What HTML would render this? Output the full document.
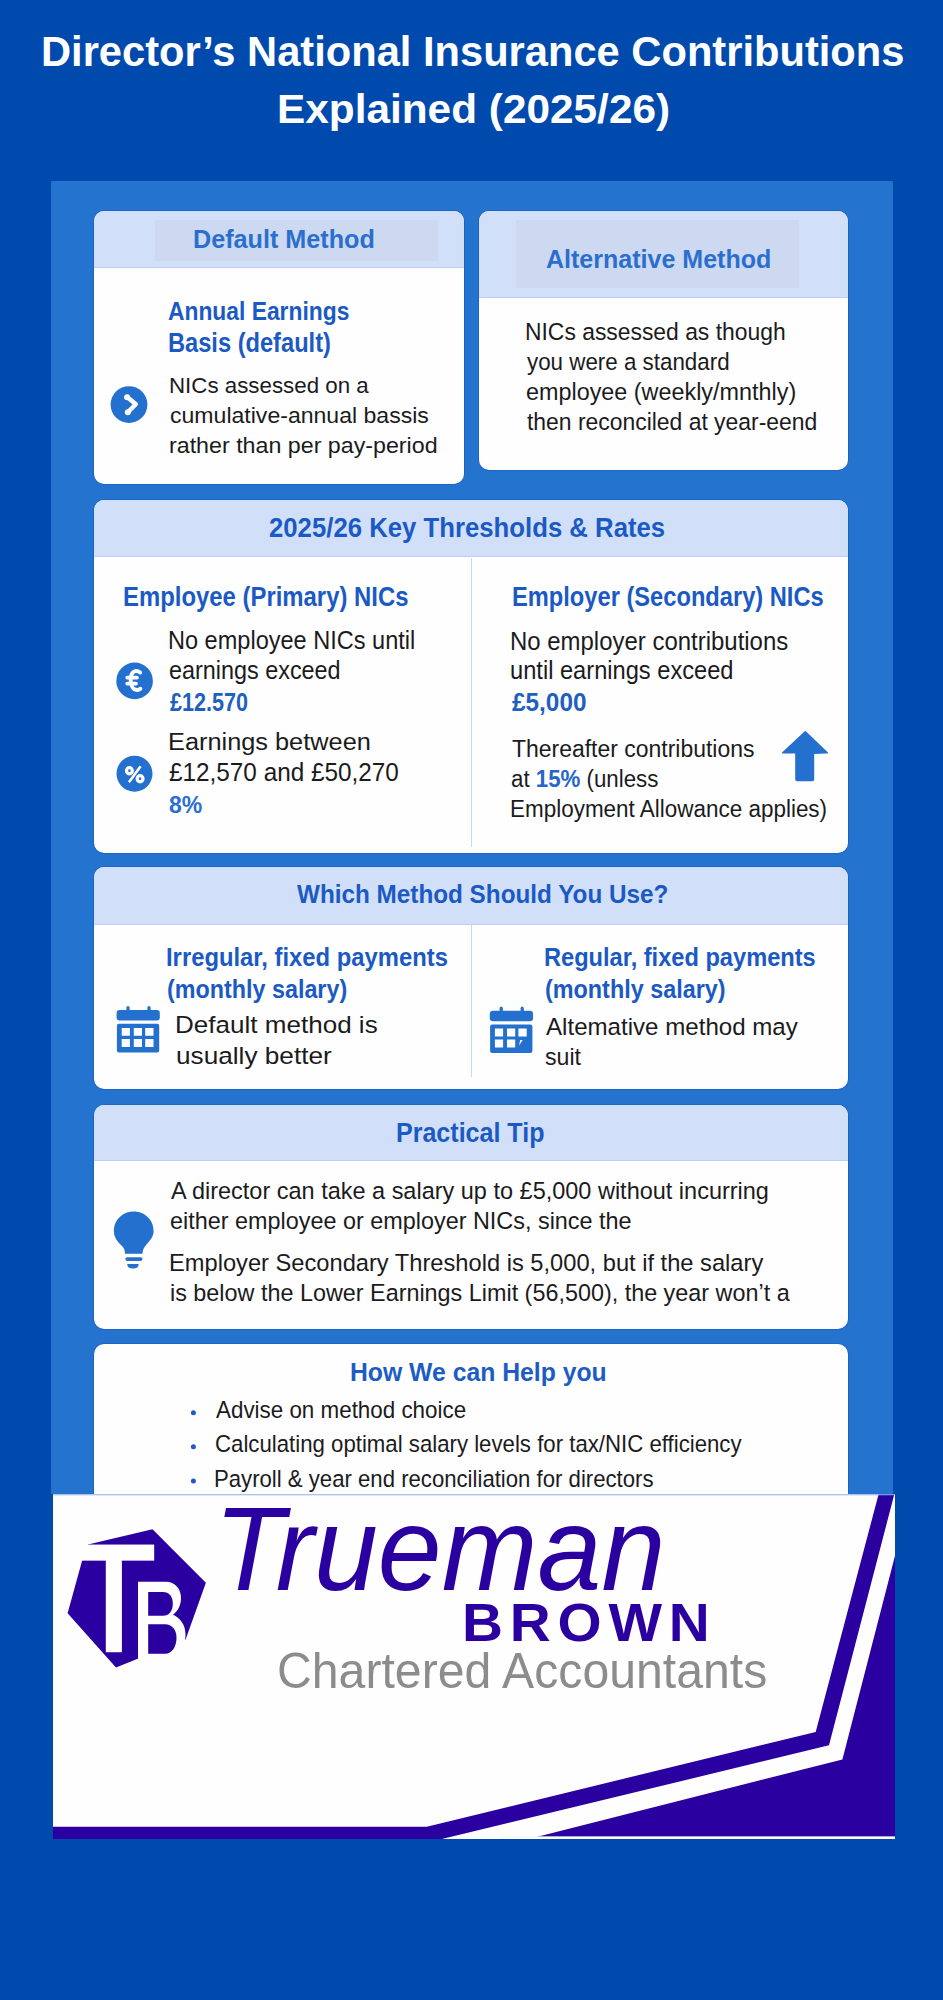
<!DOCTYPE html>
<html><head><meta charset="utf-8"><title>Director's National Insurance Contributions Explained</title>
<style>
html,body{margin:0;padding:0}
body{width:943px;height:2000px;overflow:hidden;background:#004aad;position:relative;font-family:"Liberation Sans",sans-serif}
.abs{position:absolute}
.panel{position:absolute;left:51px;top:181px;width:842px;height:1312.5px;background:#2473cf}
.card{position:absolute;background:#fefefe;border-radius:10px;overflow:hidden;box-shadow:0 0 0 0.6px rgba(10,70,190,0.55)}
.hd{position:absolute;left:0;top:0;width:100%;background:#d1dff9;border-bottom:1px solid #bcd0f3;box-sizing:border-box}
.inner{position:absolute;background:#cdd9f1}
.div{position:absolute;width:1.2px;background:#c9d8f2}
.t{position:absolute;white-space:nowrap;line-height:1;transform-origin:0 0}
.t span{display:inline-block}
svg{position:absolute;overflow:visible}
</style></head>
<body>
<div class="panel"></div>

<!-- card 1 -->
<div class="card" style="left:94px;top:211px;width:369.5px;height:273px">
  <div class="hd" style="height:57px"></div>
  <div class="inner" style="left:60.8px;top:8.6px;width:283.7px;height:41.6px"></div>
</div>
<!-- card 2 -->
<div class="card" style="left:479px;top:211px;width:369px;height:259px">
  <div class="hd" style="height:87px"></div>
  <div class="inner" style="left:37.3px;top:8.6px;width:282.5px;height:68px"></div>
</div>
<!-- card 3 -->
<div class="card" style="left:94px;top:500px;width:754px;height:353px">
  <div class="hd" style="height:56.5px"></div>
  <div class="div" style="left:377.3px;top:58px;height:289px"></div>
</div>
<!-- card 4 -->
<div class="card" style="left:94px;top:867.4px;width:754px;height:221.6px">
  <div class="hd" style="height:57.4px"></div>
  <div class="div" style="left:377.3px;top:57px;height:153px"></div>
</div>
<!-- card 5 -->
<div class="card" style="left:94px;top:1104.8px;width:754px;height:224.5px">
  <div class="hd" style="height:56px"></div>
</div>
<!-- card 6 -->
<div class="card" style="left:94px;top:1343.6px;width:754px;height:300px"></div>

<!-- icons -->
<svg width="943" height="2000" style="left:0;top:0" viewBox="0 0 943 2000">
  <g fill="#2470cf">
    <circle cx="129" cy="404.6" r="18.4"/>
    <circle cx="134.6" cy="680.9" r="18.3"/>
    <circle cx="134.5" cy="773.7" r="18"/>
    <!-- up arrow -->
    <path stroke="#2470cf" stroke-width="1.6" stroke-linejoin="round" d="M805.3 731.9 L827.2 752.8 L813.4 753.2 L813.4 779.5 Q813.4 780.5 812.4 780.5 L797 780.5 Q796 780.5 796 779.5 L796 752.8 L782.8 752.8 Z"/>
    <!-- calendar 1 -->
    <g id="cal1">
      <rect x="126.4" y="1006" width="3.2" height="8" rx="1.6"/>
      <rect x="147.4" y="1006" width="3.2" height="8" rx="1.6"/>
      <rect x="116.6" y="1010.1" width="43.2" height="10.5" rx="3"/>
      <path fill-rule="evenodd" d="M118.9 1023.8 H157.2 Q159.2 1023.8 159.2 1025.8 V1050.4 Q159.2 1052.4 157.2 1052.4 H118.9 Q116.9 1052.4 116.9 1050.4 V1025.8 Q116.9 1023.8 118.9 1023.8 Z
        M121.7 1027.9 V1035.8 H129.9 V1027.9 Z M133.8 1027.9 V1035.8 H142 V1027.9 Z M145.2 1027.9 V1035.8 H153.5 V1027.9 Z
        M121.7 1039 V1047 H129.9 V1039 Z M133.8 1039 V1047 H142 V1039 Z M145.2 1039 V1047 H153.5 V1039 Z"/>
    </g>
    <g transform="translate(373.2,0.6)">
      <rect x="126.4" y="1006" width="3.2" height="8" rx="1.6"/>
      <rect x="147.4" y="1006" width="3.2" height="8" rx="1.6"/>
      <rect x="116.6" y="1010.1" width="43.2" height="10.5" rx="3"/>
      <path fill-rule="evenodd" d="M118.9 1023.8 H157.2 Q159.2 1023.8 159.2 1025.8 V1050.4 Q159.2 1052.4 157.2 1052.4 H118.9 Q116.9 1052.4 116.9 1050.4 V1025.8 Q116.9 1023.8 118.9 1023.8 Z
        M121.7 1027.9 V1035.8 H129.9 V1027.9 Z M133.8 1027.9 V1035.8 H142 V1027.9 Z M145.2 1027.9 V1035.8 H153.5 V1027.9 Z
        M121.7 1039 V1047 H129.9 V1039 Z M133.8 1039 V1047 H142 V1039 Z M147 1039.5 L145.8 1045 L149.5 1039.5 Z"/>
    </g>
    <!-- bulb -->
    <path d="M133.7 1211.5 C122.5 1211.5 113.9 1220 113.9 1231 C113.9 1237.5 117.5 1241.5 121 1245 C124 1248 125 1250 125 1253.8 L142.5 1253.8 C142.5 1250 144 1247.5 146.5 1244.5 C150 1240.5 153.6 1237 153.6 1231 C153.6 1220 145 1211.5 133.7 1211.5 Z"/>
    <rect x="125.3" y="1257.3" width="17.2" height="3.6" rx="1.8"/>
    <path d="M127.2 1264 H138.7 Q138.7 1268.5 133 1268.5 Q127.2 1268.5 127.2 1264 Z"/>
    <!-- bullets -->
    <circle cx="193.4" cy="1412.7" r="2.5" fill="#1f5acc"/>
    <circle cx="193.4" cy="1446.7" r="2.5" fill="#1f5acc"/>
    <circle cx="193.4" cy="1480.9" r="2.5" fill="#1f5acc"/>
  </g>
  <!-- chevron -->
  <path d="M127.2 397 L135.8 404.2 L127.8 412.2" fill="none" stroke="#fff" stroke-width="4.4" stroke-linecap="round" stroke-linejoin="round"/>
  <circle cx="127.1" cy="397.2" r="3" fill="#fff"/>
  <circle cx="127.8" cy="412.2" r="3" fill="#fff"/>
  <!-- euro -->
  <path d="M140.2 672.5 C136 669.3 131.2 671.5 130.7 678.5 C130.3 685 132.8 689.6 137 690 C138.5 690.1 139.6 689.5 140.4 688.8" stroke="#fff" stroke-width="3.9" fill="none" stroke-linecap="round"/>
  <path d="M127.2 677.6 H137 M127.2 683.6 H136" stroke="#fff" stroke-width="3.7" stroke-linecap="round"/>
  <!-- percent -->
  <ellipse cx="129.4" cy="770.8" rx="2.9" ry="3.1" fill="none" stroke="#fff" stroke-width="3.3"/>
  <ellipse cx="140.1" cy="778.8" rx="2.9" ry="3.1" fill="none" stroke="#fff" stroke-width="3.3"/>
  <path d="M140.6 766.3 L128.9 782.2" stroke="#fff" stroke-width="2.5" stroke-linecap="butt"/>
</svg>

<div class="t" id="t0" style="left:41.33px;top:31.42px;font-size:42.15px;font-weight:bold;color:#ffffff;font-style:normal;letter-spacing:0em;transform:scaleX(0.9886)"><span>Director’s National Insurance Contributions</span></div>
<div class="t" id="t1" style="left:276.74px;top:88.21px;font-size:41.57px;font-weight:bold;color:#ffffff;font-style:normal;letter-spacing:0em;transform:scaleX(1.0189)"><span>Explained (2025/26)</span></div>
<div class="t" id="t2" style="left:193.24px;top:226.52px;font-size:25.73px;font-weight:bold;color:#2a6fce;font-style:normal;letter-spacing:0em;transform:scaleX(0.9791)"><span>Default Method</span></div>
<div class="t" id="t3" style="left:168.43px;top:297.83px;font-size:26.31px;font-weight:bold;color:#1b5ac4;font-style:normal;letter-spacing:0em;transform:scaleX(0.8681)"><span>Annual Earnings</span></div>
<div class="t" id="t4" style="left:167.54px;top:329.54px;font-size:26.89px;font-weight:bold;color:#1b5ac4;font-style:normal;letter-spacing:0em;transform:scaleX(0.8797)"><span>Basis (default)</span></div>
<div class="t" id="t5" style="left:168.56px;top:373.86px;font-size:22.97px;font-weight:normal;color:#1b1b1d;font-style:normal;letter-spacing:0em;transform:scaleX(0.9716)"><span>NICs assessed on a</span></div>
<div class="t" id="t6" style="left:169.50px;top:403.96px;font-size:22.97px;font-weight:normal;color:#1b1b1d;font-style:normal;letter-spacing:0em;transform:scaleX(1.0039)"><span>cumulative-annual bassis</span></div>
<div class="t" id="t7" style="left:169.49px;top:433.96px;font-size:22.97px;font-weight:normal;color:#1b1b1d;font-style:normal;letter-spacing:0em;transform:scaleX(1.0114)"><span>rather than per pay-period</span></div>
<div class="t" id="t8" style="left:545.53px;top:247.32px;font-size:25.73px;font-weight:bold;color:#2a6fce;font-style:normal;letter-spacing:0em;transform:scaleX(0.9734)"><span>Alternative Method</span></div>
<div class="t" id="t9" style="left:524.96px;top:321.07px;font-size:23.55px;font-weight:normal;color:#1b1b1d;font-style:normal;letter-spacing:0em;transform:scaleX(0.9713)"><span>NICs assessed as though</span></div>
<div class="t" id="t10" style="left:526.90px;top:351.17px;font-size:23.55px;font-weight:normal;color:#1b1b1d;font-style:normal;letter-spacing:0em;transform:scaleX(0.9495)"><span>you were a standard</span></div>
<div class="t" id="t11" style="left:525.91px;top:381.37px;font-size:23.55px;font-weight:normal;color:#1b1b1d;font-style:normal;letter-spacing:0em;transform:scaleX(0.9926)"><span>employee (weekly/mnthly)</span></div>
<div class="t" id="t12" style="left:526.90px;top:410.77px;font-size:23.55px;font-weight:normal;color:#1b1b1d;font-style:normal;letter-spacing:0em;transform:scaleX(0.9724)"><span>then reconciled at year-eend</span></div>
<div class="t" id="t13" style="left:269.09px;top:513.21px;font-size:28.34px;font-weight:bold;color:#1b5ac4;font-style:normal;letter-spacing:0em;transform:scaleX(0.9083)"><span>2025/26 Key Thresholds &amp; Rates</span></div>
<div class="t" id="t14" style="left:122.64px;top:582.99px;font-size:27.18px;font-weight:bold;color:#1b5ac4;font-style:normal;letter-spacing:0em;transform:scaleX(0.8792)"><span>Employee (Primary) NICs</span></div>
<div class="t" id="t15" style="left:511.66px;top:582.99px;font-size:27.18px;font-weight:bold;color:#1b5ac4;font-style:normal;letter-spacing:0em;transform:scaleX(0.8710)"><span>Employer (Secondary) NICs</span></div>
<div class="t" id="t16" style="left:167.91px;top:629.06px;font-size:24.85px;font-weight:normal;color:#1b1b1d;font-style:normal;letter-spacing:0em;transform:scaleX(0.9473)"><span>No employee NICs until</span></div>
<div class="t" id="t17" style="left:168.86px;top:658.96px;font-size:24.85px;font-weight:normal;color:#1b1b1d;font-style:normal;letter-spacing:0em;transform:scaleX(0.9411)"><span>earnings exceed</span></div>
<div class="t" id="t18" style="left:169.80px;top:689.54px;font-size:25.00px;font-weight:bold;color:#1f5fc2;font-style:normal;letter-spacing:0em;transform:scaleX(0.8633)"><span>£12.570</span></div>
<div class="t" id="t19" style="left:167.72px;top:729.93px;font-size:24.42px;font-weight:normal;color:#1b1b1d;font-style:normal;letter-spacing:0em;transform:scaleX(1.0380)"><span>Earnings between</span></div>
<div class="t" id="t20" style="left:168.82px;top:760.66px;font-size:24.85px;font-weight:normal;color:#1b1b1d;font-style:normal;letter-spacing:0em;transform:scaleX(0.9785)"><span>£12,570 and £50,270</span></div>
<div class="t" id="t21" style="left:168.83px;top:792.62px;font-size:23.84px;font-weight:bold;color:#2b6fd0;font-style:normal;letter-spacing:0em;transform:scaleX(0.9667)"><span>8%</span></div>
<div class="t" id="t22" style="left:510.08px;top:629.04px;font-size:25.00px;font-weight:normal;color:#1b1b1d;font-style:normal;letter-spacing:0em;transform:scaleX(0.9580)"><span>No employer contributions</span></div>
<div class="t" id="t23" style="left:510.10px;top:659.16px;font-size:24.85px;font-weight:normal;color:#1b1b1d;font-style:normal;letter-spacing:0em;transform:scaleX(0.9519)"><span>until earnings exceed</span></div>
<div class="t" id="t24" style="left:512.00px;top:689.84px;font-size:25.00px;font-weight:bold;color:#1f5fc2;font-style:normal;letter-spacing:0em;transform:scaleX(0.9737)"><span>£5,000</span></div>
<div class="t" id="t25" style="left:512.00px;top:737.00px;font-size:23.98px;font-weight:normal;color:#1b1b1d;font-style:normal;letter-spacing:0em;transform:scaleX(0.9577)"><span>Thereafter contributions</span></div>
<div class="t" id="t26" style="left:511.07px;top:766.90px;font-size:23.98px;font-weight:normal;color:#1b1b1d;font-style:normal;letter-spacing:0em;transform:scaleX(0.9293)"><span>at <b style="color:#2566c8">15%</b> (unless</span></div>
<div class="t" id="t27" style="left:510.13px;top:796.90px;font-size:23.98px;font-weight:normal;color:#1b1b1d;font-style:normal;letter-spacing:0em;transform:scaleX(0.9370)"><span>Employment Allowance applies)</span></div>
<div class="t" id="t28" style="left:296.60px;top:880.88px;font-size:26.02px;font-weight:bold;color:#1b5ac4;font-style:normal;letter-spacing:0em;transform:scaleX(0.9332)"><span>Which Method Should You Use?</span></div>
<div class="t" id="t29" style="left:165.89px;top:944.74px;font-size:25.00px;font-weight:bold;color:#1b5ac4;font-style:normal;letter-spacing:0em;transform:scaleX(0.9526)"><span>Irregular, fixed payments</span></div>
<div class="t" id="t30" style="left:166.87px;top:976.64px;font-size:25.00px;font-weight:bold;color:#1b5ac4;font-style:normal;letter-spacing:0em;transform:scaleX(0.9330)"><span>(monthly salary)</span></div>
<div class="t" id="t31" style="left:174.66px;top:1014.01px;font-size:23.26px;font-weight:normal;color:#1b1b1d;font-style:normal;letter-spacing:0em;transform:scaleX(1.1202)"><span>Default method is</span></div>
<div class="t" id="t32" style="left:175.77px;top:1044.71px;font-size:23.26px;font-weight:normal;color:#1b1b1d;font-style:normal;letter-spacing:0em;transform:scaleX(1.1263)"><span>usually better</span></div>
<div class="t" id="t33" style="left:544.19px;top:944.05px;font-size:26.16px;font-weight:bold;color:#1b5ac4;font-style:normal;letter-spacing:0em;transform:scaleX(0.9030)"><span>Regular, fixed payments</span></div>
<div class="t" id="t34" style="left:545.11px;top:975.95px;font-size:26.16px;font-weight:bold;color:#1b5ac4;font-style:normal;letter-spacing:0em;transform:scaleX(0.8935)"><span>(monthly salary)</span></div>
<div class="t" id="t35" style="left:546.00px;top:1016.41px;font-size:23.26px;font-weight:normal;color:#1b1b1d;font-style:normal;letter-spacing:0em;transform:scaleX(1.0366)"><span>Altemative method may</span></div>
<div class="t" id="t36" style="left:545.01px;top:1046.41px;font-size:23.26px;font-weight:normal;color:#1b1b1d;font-style:normal;letter-spacing:0em;transform:scaleX(0.9943)"><span>suit</span></div>
<div class="t" id="t37" style="left:395.72px;top:1117.73px;font-size:28.20px;font-weight:bold;color:#1b5ac4;font-style:normal;letter-spacing:0em;transform:scaleX(0.8884)"><span>Practical Tip</span></div>
<div class="t" id="t38" style="left:170.60px;top:1179.64px;font-size:23.69px;font-weight:normal;color:#1b1b1d;font-style:normal;letter-spacing:0em;transform:scaleX(0.9915)"><span>A director can take a salary up to £5,000 without incurring</span></div>
<div class="t" id="t39" style="left:169.61px;top:1209.84px;font-size:23.69px;font-weight:normal;color:#1b1b1d;font-style:normal;letter-spacing:0em;transform:scaleX(0.9876)"><span>either employee or employer NICs, since the</span></div>
<div class="t" id="t40" style="left:168.60px;top:1251.94px;font-size:23.69px;font-weight:normal;color:#1b1b1d;font-style:normal;letter-spacing:0em;transform:scaleX(0.9992)"><span>Employer Secondary Threshold is 5,000, but if the salary</span></div>
<div class="t" id="t41" style="left:169.61px;top:1282.14px;font-size:23.69px;font-weight:normal;color:#1b1b1d;font-style:normal;letter-spacing:0em;transform:scaleX(0.9866)"><span>is below the Lower Earnings Limit (56,500), the year won’t a</span></div>
<div class="t" id="t42" style="left:349.69px;top:1359.50px;font-size:25.87px;font-weight:bold;color:#1d5cc4;font-style:normal;letter-spacing:0em;transform:scaleX(0.9570)"><span>How We can Help you</span></div>
<div class="t" id="t43" style="left:216.10px;top:1398.81px;font-size:23.26px;font-weight:normal;color:#1b1b1d;font-style:normal;letter-spacing:0em;transform:scaleX(0.9629)"><span>Advise on method choice</span></div>
<div class="t" id="t44" style="left:215.14px;top:1432.91px;font-size:23.26px;font-weight:normal;color:#1b1b1d;font-style:normal;letter-spacing:0em;transform:scaleX(0.9551)"><span>Calculating optimal salary levels for tax/NIC efficiency</span></div>
<div class="t" id="t45" style="left:214.19px;top:1468.21px;font-size:23.26px;font-weight:normal;color:#1b1b1d;font-style:normal;letter-spacing:0em;transform:scaleX(0.9527)"><span>Payroll &amp; year end reconciliation for directors</span></div>

<!-- logo -->
<div class="abs" style="left:53px;top:1493.5px;width:842px;height:345.5px;background:#fefefe;overflow:hidden">
  <svg width="842" height="346" viewBox="53 1493.5 842 345.5" style="left:0;top:0">
    <!-- filled bottom-right -->
    <polygon fill="#2a00a0" points="910.9,1493.5 895,1493.5 895,1839 528,1838.4 842.4,1758.7"/>
    <!-- stripe -->
    <polygon fill="#2a00a0" points="878.6,1493.5 894.3,1493.5 829,1744.6 441.3,1838.4 53,1838.4 53,1826 426.8,1826 815.7,1731.2"/>
    <rect x="500" y="1835.6" width="395" height="3.4" fill="#fbf8ff"/>
    <rect x="53" y="1493.5" width="842" height="1" fill="#8fb0e6"/>
    <!-- TB hexagon -->
    <polygon fill="#2a00a0" points="88,1543.8 152.5,1528.5 205.9,1581.9 185.6,1638.8 116,1666.8 67.6,1612.5 82.1,1559.9"/>
    <rect x="80" y="1543.8" width="74.2" height="16.1" fill="#fefefe"/>
    <rect x="105.8" y="1559" width="16.1" height="92.5" fill="#fefefe"/>
    <clipPath id="hexclip"><polygon points="88,1543.8 152.5,1528.5 205.9,1581.9 185.6,1638.8 116,1666.8 67.6,1612.5 82.1,1559.9"/></clipPath>
    <path fill="#fefefe" d="M138 1581 H166 C175 1581 181 1588 181 1597 C181 1605 178 1610 173 1614 C180 1617 185.5 1624 185.5 1634 C185.5 1646 177 1658 165 1658 H138 Z"/>
    <g fill="#2a00a0">
      <path d="M148.2 1591.3 H163 C169 1591.3 172.8 1595.5 172.8 1603 C172.8 1610.5 169 1615 163 1615 H148.2 Z"/>
      <path d="M148.2 1623.5 H165 C172 1623.5 176.5 1629 176.5 1637 C176.5 1646 172 1653 165 1653 H148.2 Z"/>
    </g>
  </svg>
</div>
<div class="t" id="l0" style="left:214.13px;top:1490.22px;font-size:118.46px;font-weight:normal;color:#2a00a0;font-style:italic;letter-spacing:0em;transform:scaleX(0.9702)"><span>Trueman</span></div>
<div class="t" id="l1" style="left:462.00px;top:1595.87px;font-size:53.20px;font-weight:bold;color:#2a00a0;font-style:normal;letter-spacing:0.12em;transform:scaleX(1.0664)"><span>BROWN</span></div>
<div class="t" id="l2" style="left:277.15px;top:1647.34px;font-size:49.56px;font-weight:normal;color:#8c8c8c;font-style:normal;letter-spacing:0em;transform:scaleX(0.9728)"><span>Chartered Accountants</span></div>
</body></html>
